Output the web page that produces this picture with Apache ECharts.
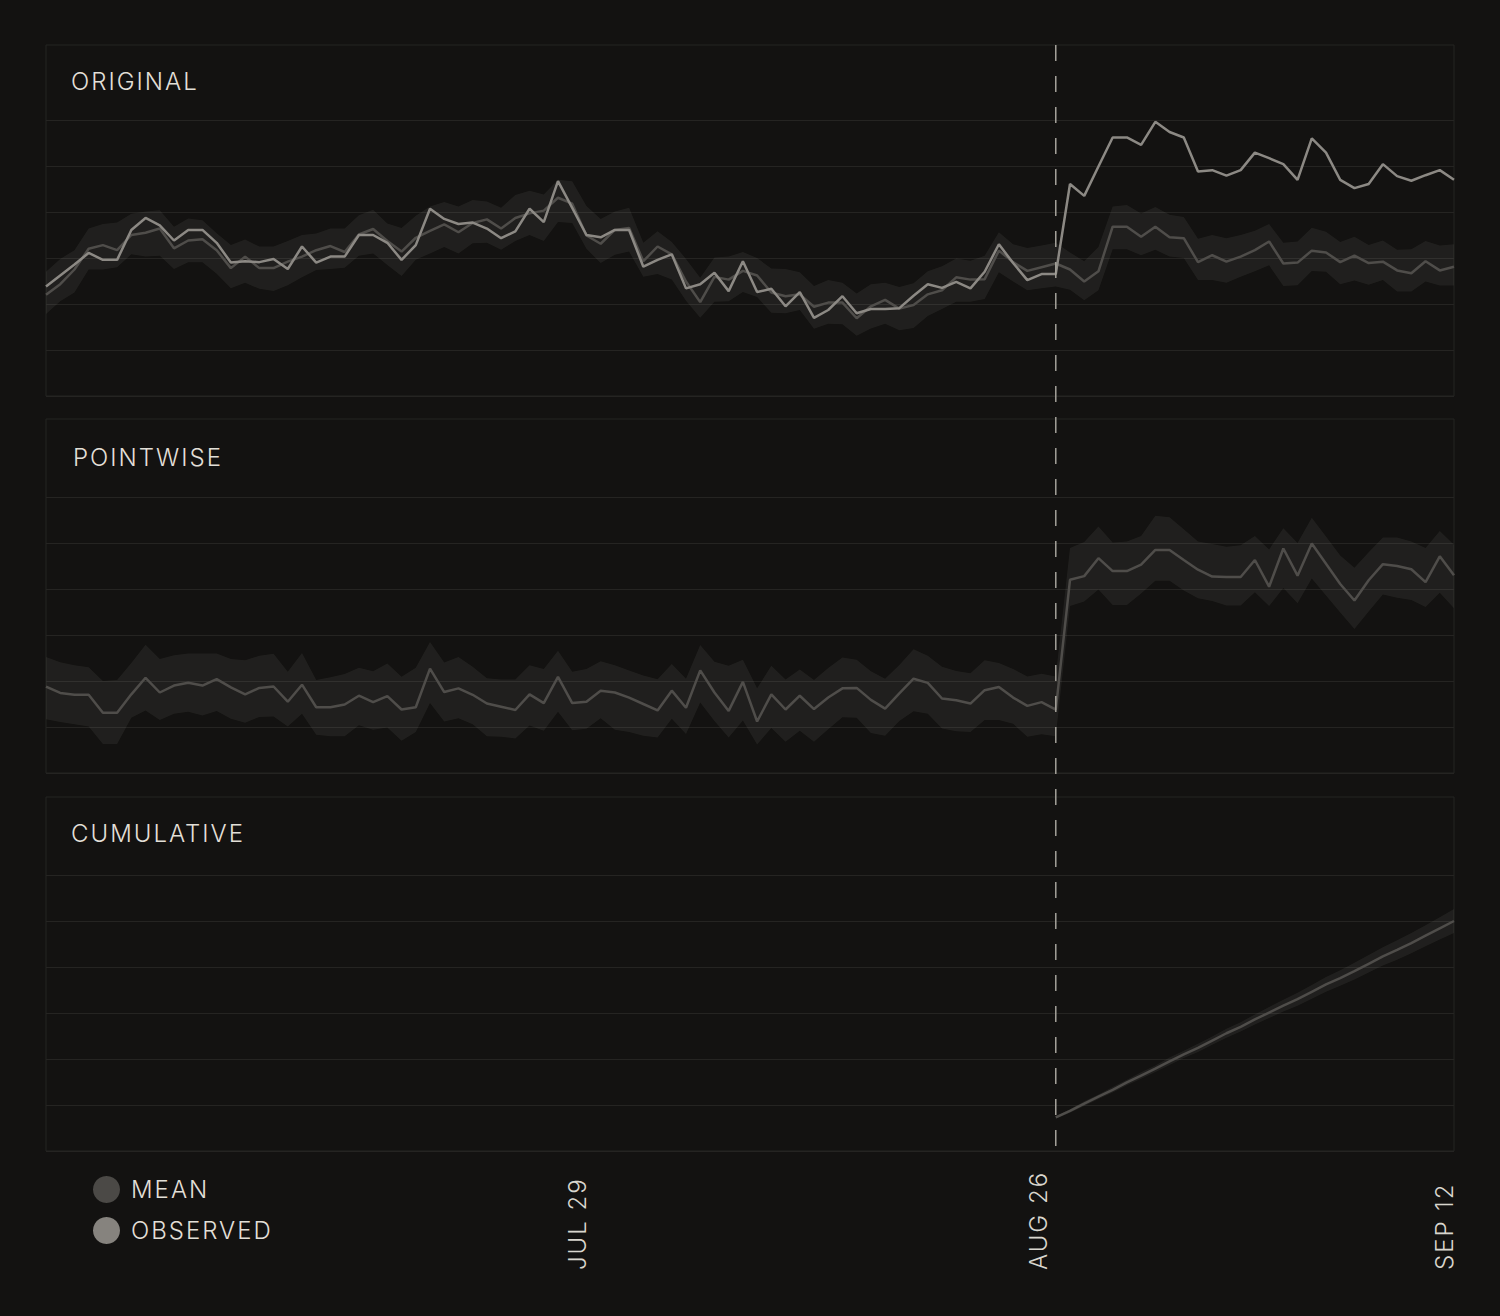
<!DOCTYPE html>
<html>
<head>
<meta charset="utf-8">
<title>Original / Pointwise / Cumulative</title>
<script src="https://cdn.jsdelivr.net/npm/echarts@6/dist/echarts.min.js"></script>
<style>
  html, body { margin: 0; padding: 0; background: #131211; }
  #chart { width: 1500px; height: 1316px; }
  #chart text { letter-spacing: 2px; }
</style>
</head>
<body>
<div id="chart"></div>
<script>
// data, one value per step (index 0..99)
const observed = [23.8, 26.2, 28.6, 31.1, 29.6, 29.6, 36.1, 38.7, 37.1, 33.8, 36.1, 36.1, 33.3, 29.0, 29.3, 29.1, 29.8, 27.6, 32.5, 29.0,
  30.3, 30.3, 35.0, 35.0, 33.3, 29.6, 32.8, 40.7, 38.5, 37.4, 37.7, 36.4, 34.3, 35.8, 40.7, 37.8, 46.7, 40.9, 35.0, 34.5,
  36.1, 36.1, 28.1, 29.6, 30.8, 23.4, 24.3, 26.8, 22.8, 29.3, 22.6, 23.3, 19.5, 22.6, 17.0, 18.7, 21.7, 18.0, 18.9, 18.9,
  19.1, 21.8, 24.3, 23.5, 24.8, 23.4, 27.0, 33.0, 28.9, 25.2, 26.5, 26.5, 46.1, 43.5, 49.9, 56.2, 56.2, 54.6, 59.6, 57.4,
  56.2, 48.8, 49.1, 47.9, 49.1, 52.9, 51.7, 50.4, 47.0, 56.0, 52.9, 47.0, 45.2, 46.1, 50.4, 47.8, 46.8, 48.0, 49.1, 47.0]

const mean = [22.0, 24.3, 27.5, 32.0, 32.8, 31.7, 35.0, 35.5, 36.4, 32.1, 33.8, 34.1, 31.7, 27.8, 30.3, 27.8, 27.8, 29.2, 30.3, 31.7,
  32.6, 31.3, 35.1, 36.3, 33.7, 31.4, 34.4, 35.9, 37.3, 35.6, 37.6, 38.4, 36.4, 38.7, 39.7, 40.3, 43.1, 41.8, 34.9, 33.1,
  36.1, 36.5, 29.3, 32.5, 30.8, 24.9, 20.4, 25.9, 25.3, 27.2, 26.2, 22.5, 21.7, 22.1, 19.4, 20.3, 20.3, 16.9, 19.5, 20.9,
  19.0, 19.8, 22.1, 23.0, 25.8, 25.3, 25.4, 31.6, 29.1, 27.2, 28.0, 28.8, 27.5, 24.9, 27.1, 36.8, 36.8, 34.6, 36.8, 34.5,
  34.3, 29.1, 30.6, 29.2, 30.3, 31.7, 33.6, 28.8, 29.0, 31.6, 31.2, 29.1, 30.5, 28.9, 29.2, 27.3, 26.7, 29.3, 27.3, 28.1]

const meanUpper = [27.0, 29.8, 31.7, 36.4, 37.4, 37.7, 39.6, 40.1, 40.4, 36.8, 38.6, 38.2, 35.4, 32.8, 34.0, 32.5, 32.5, 33.7, 35.0, 35.3,
  36.4, 36.4, 39.3, 40.5, 37.5, 36.5, 39.2, 41.2, 42.2, 41.2, 42.6, 42.3, 40.9, 43.7, 44.6, 43.8, 47.0, 46.7, 41.3, 38.5,
  40.1, 40.9, 33.3, 35.8, 33.5, 29.8, 25.7, 30.1, 30.3, 31.3, 30.0, 27.7, 27.6, 26.9, 23.9, 25.2, 24.6, 22.3, 24.3, 24.6,
  23.7, 24.5, 27.1, 28.2, 29.9, 29.4, 30.5, 35.6, 33.0, 32.2, 32.7, 33.3, 31.2, 29.3, 32.4, 41.2, 41.5, 39.7, 41.1, 39.4,
  38.9, 34.2, 35.0, 34.3, 35.0, 35.9, 37.4, 33.3, 33.6, 36.6, 35.7, 33.5, 34.6, 32.8, 33.8, 31.8, 31.9, 33.7, 32.7, 33.0]

const meanLower = [17.8, 20.6, 22.5, 27.5, 27.5, 28.0, 30.8, 30.3, 30.5, 27.6, 29.1, 29.1, 26.6, 23.4, 24.6, 23.3, 22.8, 24.1, 25.8, 27.4,
  27.6, 27.9, 30.5, 31.0, 28.5, 26.1, 29.6, 31.0, 32.4, 31.0, 33.2, 33.3, 31.8, 33.7, 35.0, 33.7, 37.8, 37.6, 32.0, 28.9,
  30.7, 31.4, 25.9, 26.5, 25.3, 20.7, 17.0, 20.5, 20.6, 22.6, 21.5, 18.1, 18.0, 18.7, 14.6, 15.7, 15.6, 13.1, 14.7, 15.7,
  14.3, 14.8, 17.4, 18.9, 20.5, 20.5, 21.1, 26.9, 24.9, 23.0, 23.4, 23.8, 23.1, 20.8, 23.0, 31.9, 31.9, 30.6, 31.8, 30.3,
  30.0, 25.2, 25.2, 24.6, 25.9, 27.1, 28.4, 23.9, 24.1, 27.2, 27.0, 24.3, 25.1, 24.2, 25.2, 22.7, 22.7, 24.9, 24.0, 24.0]

const pointwise = [18.8, 17.4, 17.0, 17.0, 13.1, 13.1, 17.1, 20.7, 17.5, 19.0, 19.6, 19.0, 20.4, 18.6, 17.1, 18.5, 18.8, 15.5, 19.2, 14.3,
  14.3, 14.9, 16.8, 15.4, 16.7, 13.8, 14.3, 22.7, 17.6, 18.4, 17.0, 15.1, 14.4, 13.7, 17.1, 15.2, 20.9, 15.2, 15.5, 17.9,
  17.5, 16.4, 15.0, 13.6, 17.9, 14.2, 22.3, 17.5, 13.5, 19.8, 11.2, 17.1, 13.8, 16.8, 13.9, 16.4, 18.4, 18.5, 15.9, 14.0,
  17.3, 20.5, 19.6, 16.2, 15.8, 15.1, 18.0, 18.7, 16.4, 14.6, 15.4, 13.8, 42.0, 42.8, 46.7, 43.9, 43.9, 45.3, 48.5, 48.5,
  46.3, 44.2, 42.7, 42.6, 42.6, 46.3, 40.5, 48.8, 42.9, 49.9, 45.5, 41.1, 37.5, 41.9, 45.4, 45.0, 44.3, 41.5, 47.1, 43.0]

const pointUpper = [25.2, 24.1, 23.4, 23.0, 20.0, 20.2, 23.9, 27.9, 24.8, 25.6, 26.0, 26.0, 26.0, 24.8, 24.5, 25.5, 25.9, 22.0, 26.1, 20.2,
  20.8, 21.5, 22.9, 22.1, 23.8, 20.9, 22.9, 28.5, 24.0, 25.2, 23.1, 20.6, 20.3, 20.3, 23.4, 22.6, 26.6, 22.0, 22.6, 24.3,
  23.4, 22.3, 21.2, 20.4, 23.7, 20.5, 27.8, 24.2, 23.3, 24.6, 18.4, 23.3, 20.3, 22.5, 20.2, 22.8, 25.1, 24.6, 22.1, 20.5,
  23.5, 26.9, 25.5, 23.1, 22.2, 21.7, 24.5, 23.9, 22.6, 21.0, 21.6, 21.0, 48.9, 50.2, 53.6, 50.1, 50.3, 51.5, 55.9, 55.6,
  53.0, 50.3, 49.8, 49.2, 49.5, 51.5, 48.6, 53.2, 50.0, 55.5, 51.4, 47.3, 44.6, 48.0, 51.2, 51.2, 50.3, 48.9, 52.6, 49.6]

const pointLower = [11.7, 11.1, 10.6, 10.1, 6.3, 6.3, 12.0, 13.6, 11.5, 12.9, 13.3, 12.5, 13.5, 11.8, 10.9, 12.2, 12.3, 10.1, 12.9, 8.3,
  8.0, 8.0, 10.4, 9.4, 9.9, 7.0, 8.9, 15.2, 11.2, 11.9, 10.6, 8.0, 7.9, 7.5, 10.3, 9.2, 13.3, 9.3, 9.6, 11.9,
  9.4, 8.9, 8.1, 7.7, 11.8, 8.5, 15.3, 11.3, 7.7, 11.4, 6.2, 9.8, 6.8, 9.2, 6.8, 9.5, 12.1, 12.0, 8.7, 8.1,
  11.3, 13.4, 12.9, 9.7, 9.1, 8.9, 11.5, 11.5, 10.7, 7.9, 8.4, 8.0, 36.3, 37.3, 39.9, 36.5, 36.5, 39.0, 41.8, 41.8,
  39.7, 38.0, 37.4, 36.4, 36.4, 39.3, 36.3, 40.2, 36.9, 42.3, 38.6, 34.9, 31.3, 35.1, 38.8, 38.1, 37.6, 36.1, 39.2, 35.8]

// cumulative effect starts at the intervention step
const cumStart = 71
const cumulative = [7.3, 8.7, 10.3, 11.8, 13.3, 14.9, 16.4, 17.9, 19.5, 21.0, 22.4, 24.0, 25.6, 27.0, 28.6,
  30.1, 31.6, 33.0, 34.6, 36.2, 37.6, 39.1, 40.7, 42.3, 43.7, 45.2, 46.8, 48.4, 50.0]
const cumUpper = [7.6, 9.1, 10.8, 12.3, 13.9, 15.5, 17.1, 18.6, 20.3, 21.8, 23.3, 24.9, 26.6, 28.0, 29.7,
  31.3, 32.9, 34.4, 36.1, 37.8, 39.3, 40.9, 42.6, 44.3, 45.8, 47.4, 49.1, 50.8, 52.6]
const cumLower = [7.0, 8.3, 9.8, 11.3, 12.7, 14.3, 15.7, 17.2, 18.7, 20.2, 21.5, 23.1, 24.6, 26.0, 27.5,
  28.9, 30.3, 31.6, 33.1, 34.6, 35.9, 37.3, 38.8, 40.3, 41.6, 43.0, 44.5, 46.0, 47.4]

const lastStep = 99
const interventionStep = 71
const tickLabels = ["JUL 29", "AUG 26", "SEP 12"]
const tickSteps = [37.34, 69.82, 98.32]
const panelTitles = ["ORIGINAL", "POINTWISE", "CUMULATIVE"]

// styling
const bg = "#131211"
const gridColor = "#252422"
const bandColor = "rgba(255, 250, 240, 0.06)"
const meanColor = "#4f4d4a"
const obsColor = "#8c8984"
const textColor = "#e2dfd7"
const font = "Inter, 'Helvetica Neue', Arial, sans-serif"

// layout of the three panels (frame = outlined box, plot = area with gridlines)
const panels = [
  { frameTop: 45, frameH: 351, plotTop: 120, titleLeft: 71, titleTop: 69 },
  { frameTop: 419, frameH: 354, plotTop: 497, titleLeft: 73, titleTop: 445 },
  { frameTop: 797, frameH: 354, plotTop: 875, titleLeft: 71, titleTop: 821 }
]
const plotH = 276
const left = 46
const width = 1408

// value first, step second: with two value axes echarts stacks the first
// numeric dimension, so the y value has to come first (see encode below)
const pairs = (arr, start = 0) => arr.map((v, i) => [v, start + i])
const enc = { x: 1, y: 0 }

const bandSeries = (key, g, lower, upper, start = 0) => {
  const base = {
    type: "line", xAxisIndex: g, yAxisIndex: g, stack: key, symbol: "none", encode: enc,
    silent: true, lineStyle: { width: 0, opacity: 0 }, z: 1
  }
  return [
    { ...base, name: key + "-lo", data: pairs(lower, start) },
    { ...base, name: key + "-hi", data: pairs(upper.map((u, i) => u - lower[i]), start),
      areaStyle: { color: bandColor, opacity: 1 } }
  ]
}

const lineSeries = (name, g, arr, color, start = 0) => ({
  type: "line", name, xAxisIndex: g, yAxisIndex: g, data: pairs(arr, start), encode: enc,
  symbol: "none", color, lineStyle: { width: 2.5, color }, z: 3
})

const grids = []
const xAxes = []
const yAxes = []

panels.forEach((p, i) => {
  grids.push({ left, width, top: p.plotTop, height: plotH, outerBoundsMode: "none" })
  xAxes.push({
    type: "value", gridIndex: i, min: 0, max: lastStep,
    show: i === 2,
    axisLine: { show: false }, axisTick: { show: false }, splitLine: { show: false },
    axisLabel: {
      show: i === 2,
      customValues: tickSteps,
      rotate: 90, align: "left", margin: 119,
      color: "#d9d6ce", fontSize: 24, fontWeight: 300, fontFamily: font,
      formatter: v => {
        const k = tickSteps.findIndex(t => Math.abs(t - v) < 0.01)
        return k >= 0 ? tickLabels[k] : ""
      }
    }
  })
  yAxes.push({
    type: "value", gridIndex: i, min: 0, max: 60, interval: 10,
    axisLine: { show: false }, axisTick: { show: false }, axisLabel: { show: false },
    splitLine: { show: true, lineStyle: { color: gridColor, width: 1 } }
  })
})

// outlined frames round each panel
panels.forEach((p, i) => {
  grids.push({ left, width, top: p.frameTop, height: p.frameH, show: true,
    borderColor: gridColor, borderWidth: 1, backgroundColor: "transparent", outerBoundsMode: "none" })
  xAxes.push({ type: "value", gridIndex: 3 + i, show: false, min: 0, max: lastStep })
  yAxes.push({ type: "value", gridIndex: 3 + i, show: false, min: 0, max: 1 })
})

// full-height grid for the intervention marker
grids.push({ left, width, top: 45, height: 1106, outerBoundsMode: "none" })
xAxes.push({ type: "value", gridIndex: 6, show: false, min: 0, max: lastStep })
yAxes.push({ type: "value", gridIndex: 6, show: false, min: 0, max: 1 })

const series = [
  ...bandSeries("band0", 0, meanLower, meanUpper),
  lineSeries("MEAN", 0, mean, meanColor),
  lineSeries("OBSERVED", 0, observed, obsColor),
  ...bandSeries("band1", 1, pointLower, pointUpper),
  lineSeries("pointwise", 1, pointwise, meanColor),
  ...bandSeries("band2", 2, cumLower, cumUpper, cumStart),
  lineSeries("cumulative", 2, cumulative, meanColor, cumStart),
  {
    type: "line", name: "intervention", xAxisIndex: 6, yAxisIndex: 6, symbol: "none", silent: true,
    data: [[interventionStep, 1], [interventionStep, 0]],
    lineStyle: { color: "#a3a099", width: 1.5, type: [16, 15] }, z: 5
  }
]

const option = {
  backgroundColor: bg,
  animation: false,
  title: panels.map((p, i) => ({
    text: panelTitles[i], left: p.titleLeft, top: p.titleTop, padding: 0,
    textStyle: { color: textColor, fontSize: 24, fontWeight: 300, fontFamily: font }
  })),
  legend: {
    orient: "vertical", left: 93, top: 1176, padding: 0,
    itemWidth: 27, itemHeight: 27, itemGap: 14, icon: "circle", selectedMode: false,
    itemStyle: { borderWidth: 0 },
    textStyle: { color: textColor, fontSize: 24, fontWeight: 300, fontFamily: font, padding: [0, 0, 0, 6] },
    data: [
      { name: "MEAN", itemStyle: { color: "#4b4946" } },
      { name: "OBSERVED", itemStyle: { color: "#86837e" } }
    ]
  },
  grid: grids,
  xAxis: xAxes,
  yAxis: yAxes,
  series
}

const chart = echarts.init(document.getElementById("chart"), null, { renderer: "svg" })
chart.setOption(option)
window.addEventListener("resize", chart.resize)
</script>
</body>
</html>
